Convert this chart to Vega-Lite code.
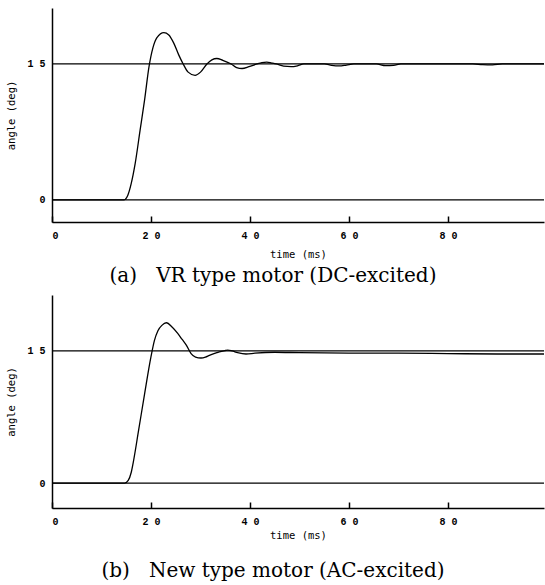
{
  "$schema": "https://vega.github.io/schema/vega-lite/v6.json",
  "padding": {"left": 6, "top": 8, "right": 0, "bottom": 0},
  "background": "white",
  "spacing": 9,
  "config": {
    "view": {"stroke": null},
    "axis": {"domainColor": "black", "domainWidth": 1.5, "grid": false, "labelColor": "black", "titleColor": "black", "labelFont": "Liberation Mono", "labelFontWeight": "bold", "labelFontSize": 10, "titleFont": "DejaVu Sans Mono", "titleFontWeight": "normal", "titleFontSize": 10.5},
    "title": {"font": "DejaVu Serif", "fontSize": 20, "fontWeight": "normal", "color": "black"}
  },
  "datasets": {
    "a": [
      {"t": 0, "v": 0}, {"t": 14.5, "v": 0}, {"t": 15.3, "v": 0.5}, {"t": 16.0, "v": 1.8}, {"t": 16.8, "v": 4.0}, {"t": 17.8, "v": 7.7}, {"t": 18.7, "v": 11.0}, {"t": 19.6, "v": 14.7}, {"t": 20.4, "v": 16.8}, {"t": 21.2, "v": 17.9}, {"t": 22.6, "v": 18.45}, {"t": 23.6, "v": 18.2}, {"t": 24.6, "v": 17.3}, {"t": 25.6, "v": 16.0}, {"t": 26.5, "v": 15.0}, {"t": 27.5, "v": 14.1}, {"t": 28.9, "v": 13.75}, {"t": 30.0, "v": 14.1}, {"t": 31.3, "v": 15.0}, {"t": 32.3, "v": 15.45}, {"t": 33.3, "v": 15.6}, {"t": 34.5, "v": 15.4}, {"t": 36.2, "v": 15.0}, {"t": 37.3, "v": 14.6}, {"t": 38.4, "v": 14.5}, {"t": 39.8, "v": 14.7}, {"t": 41.4, "v": 15.0}, {"t": 42.4, "v": 15.15}, {"t": 43.4, "v": 15.2}, {"t": 44.4, "v": 15.1}, {"t": 45.3, "v": 15.0}, {"t": 46.8, "v": 14.75}, {"t": 48.3, "v": 14.7}, {"t": 49.6, "v": 14.8}, {"t": 50.9, "v": 15.0}, {"t": 55, "v": 15.0}, {"t": 56.5, "v": 14.85}, {"t": 58, "v": 14.78}, {"t": 59.5, "v": 14.88}, {"t": 61, "v": 15.0}, {"t": 65.5, "v": 15.0}, {"t": 67.4, "v": 14.82}, {"t": 69, "v": 14.85}, {"t": 70.5, "v": 15.0}, {"t": 85, "v": 15.0}, {"t": 87, "v": 14.92}, {"t": 89, "v": 14.9}, {"t": 91, "v": 15.0}, {"t": 99.4, "v": 15.0}
    ],
    "b": [
      {"t": 0, "v": 0}, {"t": 14.7, "v": 0}, {"t": 15.4, "v": 0.3}, {"t": 16.0, "v": 1.2}, {"t": 16.4, "v": 2.3}, {"t": 17.5, "v": 6.0}, {"t": 18.7, "v": 10.1}, {"t": 20.0, "v": 14.35}, {"t": 20.7, "v": 16.2}, {"t": 21.4, "v": 17.3}, {"t": 22.2, "v": 17.9}, {"t": 23.1, "v": 18.2}, {"t": 24.3, "v": 17.7}, {"t": 25.4, "v": 17.0}, {"t": 26.3, "v": 16.3}, {"t": 27.1, "v": 15.7}, {"t": 28.1, "v": 14.7}, {"t": 29.0, "v": 14.3}, {"t": 30.1, "v": 14.2}, {"t": 31.0, "v": 14.3}, {"t": 31.8, "v": 14.5}, {"t": 33.0, "v": 14.75}, {"t": 33.8, "v": 14.9}, {"t": 35.0, "v": 15.05}, {"t": 35.5, "v": 15.1}, {"t": 36.4, "v": 15.0}, {"t": 37.5, "v": 14.8}, {"t": 39.2, "v": 14.65}, {"t": 41, "v": 14.75}, {"t": 45, "v": 14.85}, {"t": 50, "v": 14.8}, {"t": 60, "v": 14.75}, {"t": 70, "v": 14.75}, {"t": 80, "v": 14.7}, {"t": 90, "v": 14.65}, {"t": 99.4, "v": 14.65}
    ],
    "refs": [{"level": 0}, {"level": 15}]
  },
  "vconcat": [
    {
      "width": 492,
      "height": 214,
      "title": {"text": "(a)\u00a0\u00a0 VR type motor (DC-excited)", "orient": "bottom", "anchor": "middle", "dx": -25, "offset": 6},
      "layer": [
        {
          "data": {"name": "refs"},
          "mark": {"type": "rule", "color": "black", "strokeWidth": 1.2},
          "encoding": {
            "y": {"field": "level", "type": "quantitative", "scale": {"domain": [-2.43, 21.17], "nice": false}}
          }
        },
        {
          "data": {"name": "a"},
          "mark": {"type": "line", "color": "black", "strokeWidth": 1.3, "interpolate": "monotone", "clip": true},
          "encoding": {
            "x": {"field": "t", "type": "quantitative", "scale": {"domain": [0, 99.4], "nice": false, "zero": false},
              "axis": {"title": "time (ms)", "values": [0, 20, 40, 60, 80], "tickSize": -6, "tickColor": "black", "tickWidth": 1.5, "labelPadding": 14, "titlePadding": 9,
                "labelExpr": "datum.value == 0 ? '0' : datum.value == 20 ? '2 0' : datum.value == 40 ? '4 0' : datum.value == 60 ? '6 0' : '8 0'"}},
            "y": {"field": "v", "type": "quantitative", "scale": {"domain": [-2.43, 21.17], "nice": false},
              "axis": {"title": "angle (deg)", "values": [0, 15], "ticks": false, "labelPadding": 7, "titlePadding": 10,
                "labelExpr": "datum.value == 15 ? '1 5' : '0'"}}
          }
        }
      ]
    },
    {
      "width": 492,
      "height": 213,
      "title": {"text": "(b)\u00a0\u00a0 New type motor (AC-excited)", "orient": "bottom", "anchor": "middle", "dx": -25, "offset": 20},
      "layer": [
        {
          "data": {"name": "refs"},
          "mark": {"type": "rule", "color": "black", "strokeWidth": 1.2},
          "encoding": {
            "y": {"field": "level", "type": "quantitative", "scale": {"domain": [-2.83, 21.35], "nice": false}}
          }
        },
        {
          "data": {"name": "b"},
          "mark": {"type": "line", "color": "black", "strokeWidth": 1.3, "interpolate": "monotone", "clip": true},
          "encoding": {
            "x": {"field": "t", "type": "quantitative", "scale": {"domain": [0, 99.4], "nice": false, "zero": false},
              "axis": {"title": "time (ms)", "values": [0, 20, 40, 60, 80], "tickSize": -6, "tickColor": "black", "tickWidth": 1.5, "labelPadding": 14, "titlePadding": 4,
                "labelExpr": "datum.value == 0 ? '0' : datum.value == 20 ? '2 0' : datum.value == 40 ? '4 0' : datum.value == 60 ? '6 0' : '8 0'"}},
            "y": {"field": "v", "type": "quantitative", "scale": {"domain": [-2.83, 21.35], "nice": false},
              "axis": {"title": "angle (deg)", "values": [0, 15], "ticks": false, "labelPadding": 7, "titlePadding": 10,
                "labelExpr": "datum.value == 15 ? '1 5' : '0'"}}
          }
        }
      ]
    }
  ]
}
